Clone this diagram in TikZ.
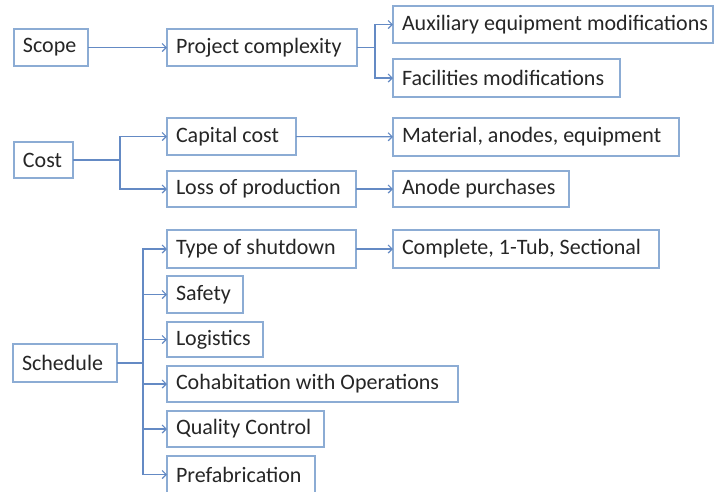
\documentclass[tikz,border=0pt]{standalone}
\usepackage{fontspec}
\setmainfont{Carlito}
\usetikzlibrary{arrows.meta}
\definecolor{boxline}{RGB}{140,172,212}
\definecolor{linkline}{RGB}{100,138,196}
\definecolor{ink}{RGB}{38,38,38}
\tikzset{
  box/.style={draw=boxline, line width=1.2pt, anchor=north west, inner xsep=9pt,
    inner ysep=0pt, outer sep=0pt, text=ink, font=\fontsize{22}{26}\selectfont},
  link/.style={draw=linkline, line width=1.2pt},
  arr/.style={link, -{Straight Barb[length=4pt,width=8pt]}}
}
% name, left x, top y, width, height, label
\newcommand\putbox[6]{%
  \node[box, minimum width=#4pt, minimum height=#5pt] (#1) at (#2,#3)
    {\makebox[\dimexpr#4pt-18pt\relax][l]{#6}};}
\begin{document}
\begin{tikzpicture}[x=1pt,y=-1pt]
\useasboundingbox[fill=white] (0,0) rectangle (716,491);
% Scope branch
\putbox{scope}{14}{29}{74}{37}{Scope}
\putbox{proj}{167}{29}{190}{37}{Project complexity}
\putbox{aux}{393}{6}{320}{37}{Auxiliary equipment modifications}
\putbox{fac}{393}{59}{227}{38}{Facilities modifications}
% Cost branch
\putbox{cost}{14}{142}{59}{36}{Cost}
\putbox{cap}{167}{118}{129}{37}{Capital cost}
\putbox{loss}{167}{171}{189}{36}{Loss of production}
\putbox{mat}{393}{118}{286}{38}{Material, anodes, equipment}
\putbox{anode}{393}{171}{176}{36}{Anode purchases}
% Schedule branch
\putbox{sched}{13}{344}{104}{38}{Schedule}
\putbox{type}{167}{230}{189}{38}{Type of shutdown}
\putbox{safety}{167}{276}{76}{37}{Safety}
\putbox{logi}{167}{322}{96}{35}{Logistics}
\putbox{cohab}{167}{366}{291}{36}{Cohabitation with Operations}
\putbox{qual}{167}{411}{157}{36}{Quality Control}
\putbox{prefab}{167}{456}{148}{37}{Prefabrication}
\putbox{complete}{393}{230}{266}{38}{Complete, 1-Tub, Sectional}
% connectors
\draw[arr] (scope) -- (proj);
\draw[link] (proj.east) -- ++(18,0) coordinate (pf);
\draw[arr] (pf) |- (aux.west);
\draw[arr] (pf) |- (fac.west);
\draw[link] (cost.east) -- ++(47,0) coordinate (cf);
\draw[arr] (cf) |- (cap.west);
\draw[arr] (cf) |- (loss.west);
\draw[arr] (cap) -- (mat);
\draw[arr] (loss) -- (anode);
\draw[link] (sched.east) -- ++(26,0) coordinate (sf);
\foreach \n in {type,safety,logi,cohab,qual,prefab}
  \draw[arr] (sf) |- (\n.west);
\draw[arr] (type) -- (complete);
\end{tikzpicture}
\end{document}
